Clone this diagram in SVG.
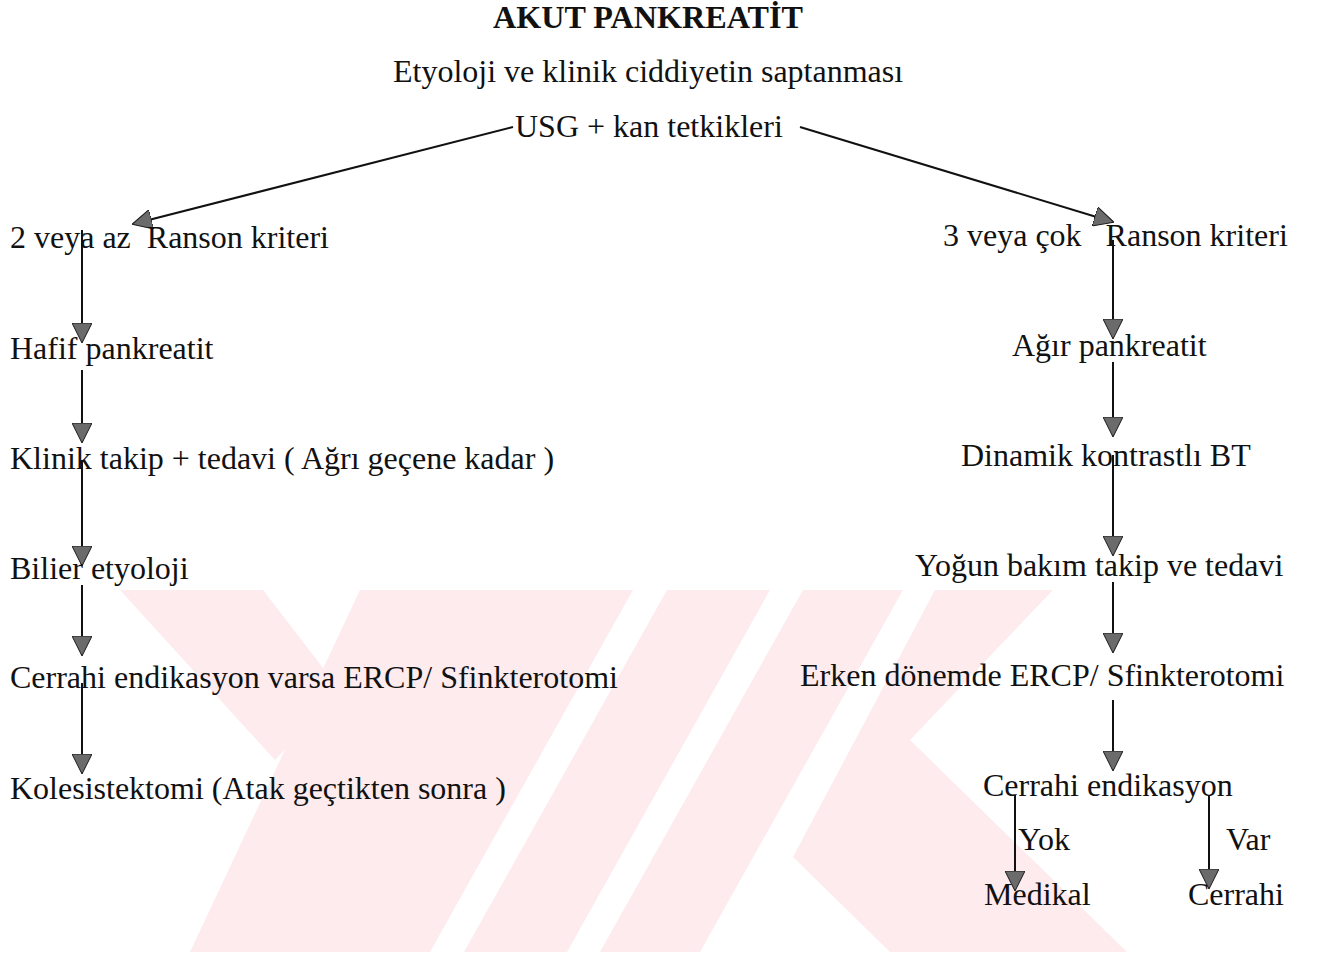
<svg xmlns="http://www.w3.org/2000/svg" width="1317" height="957" viewBox="0 0 1317 957">
<style>
text{font-family:"Liberation Serif","Times New Roman",serif;font-size:32px;fill:#111;white-space:pre}
.title{font-weight:bold;font-size:31.5px}
.wm{fill:#fdebee}
.conn line{stroke:#111;stroke-width:2;marker-end:url(#ah)}
</style>
<defs>
<marker id="ah" viewBox="0 0 20 20" refX="19" refY="10" markerWidth="20" markerHeight="20" markerUnits="userSpaceOnUse" orient="auto">
<path d="M0,0 L20,10 L0,20 z" fill="#6b6b6b" stroke="#1a1a1a" stroke-width="1"/>
</marker>
</defs>
<rect width="1317" height="957" fill="#fff"/>
<g id="watermark">
<polygon class="wm" points="120,590 263,590 340,690 275,760"/>
<polygon class="wm" points="360,590 633,590 430,952 190,952"/>
<polygon class="wm" points="667,590 770,590 567,952 464,952"/>
<polygon class="wm" points="803,590 903,590 700,952 600,952"/>
<polygon class="wm" points="935,590 1053,590 910,740 1127,952 890,952 793,857"/>
</g>
<g id="connectors" class="conn">
<line x1="513" y1="127" x2="133" y2="224"/>
<line x1="800" y1="127" x2="1113" y2="222"/>
<line x1="82" y1="230" x2="82" y2="342"/>
<line x1="82" y1="370" x2="82" y2="442"/>
<line x1="82" y1="460" x2="82" y2="565"/>
<line x1="82" y1="585" x2="82" y2="655"/>
<line x1="82" y1="683" x2="82" y2="773"/>
<line x1="1113" y1="240" x2="1113" y2="338"/>
<line x1="1113" y1="362" x2="1113" y2="436"/>
<line x1="1113" y1="455" x2="1113" y2="555"/>
<line x1="1113" y1="582" x2="1113" y2="652"/>
<line x1="1113" y1="700" x2="1113" y2="770"/>
<line x1="1015" y1="795" x2="1015" y2="890"/>
<line x1="1209" y1="795" x2="1209" y2="888"/>
</g>
<g id="n-title"><text class="title" x="493" y="28" textLength="310" lengthAdjust="spacingAndGlyphs">AKUT PANKREATİT</text></g>
<g id="n-etyoloji"><text x="393" y="82">Etyoloji ve klinik ciddiyetin saptanması</text></g>
<g id="n-usg"><text x="515" y="137">USG + kan tetkikleri</text></g>
<g id="n-ranson2"><text x="10" y="248">2 veya az  Ranson kriteri</text></g>
<g id="n-ranson3"><text x="943" y="246">3 veya çok   Ranson kriteri</text></g>
<g id="n-hafif"><text x="10" y="359">Hafif pankreatit</text></g>
<g id="n-agir"><text x="1012" y="356">Ağır pankreatit</text></g>
<g id="n-klinik"><text x="10" y="469">Klinik takip + tedavi ( Ağrı geçene kadar )</text></g>
<g id="n-dinamik"><text x="961" y="466">Dinamik kontrastlı BT</text></g>
<g id="n-bilier"><text x="10" y="579">Bilier etyoloji</text></g>
<g id="n-yogun"><text x="915" y="576">Yoğun bakım takip ve tedavi</text></g>
<g id="n-cerrahi-varsa"><text x="10" y="688">Cerrahi endikasyon varsa ERCP/ Sfinkterotomi</text></g>
<g id="n-erken"><text x="800" y="686">Erken dönemde ERCP/ Sfinkterotomi</text></g>
<g id="n-kolesistektomi"><text x="10" y="799">Kolesistektomi (Atak geçtikten sonra )</text></g>
<g id="n-cerrahi-end"><text x="983" y="796">Cerrahi endikasyon</text></g>
<g id="n-yok"><text x="1018" y="850">Yok</text></g>
<g id="n-var"><text x="1226" y="850">Var</text></g>
<g id="n-medikal"><text x="984" y="905">Medikal</text></g>
<g id="n-cerrahi"><text x="1188" y="905">Cerrahi</text></g>
</svg>
